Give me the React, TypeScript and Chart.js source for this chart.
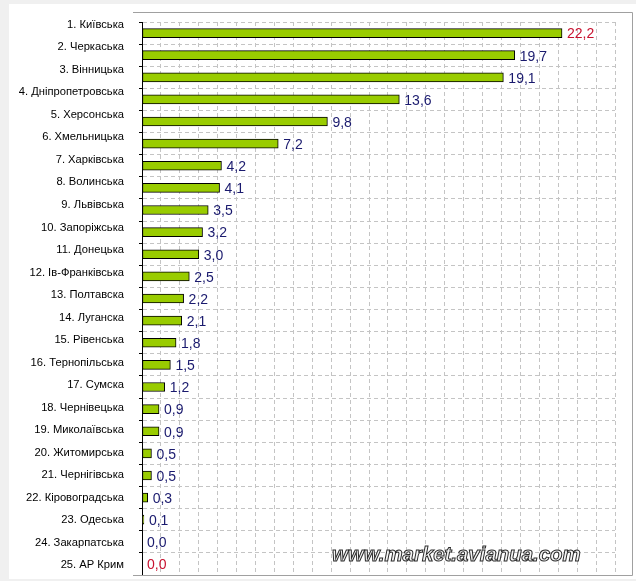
import React, { useEffect, useRef } from 'react';
import { Chart, registerables } from 'chart.js';

Chart.register(...registerables);

const categories: string[] = [
  '1. Київська',
  '2. Черкаська',
  '3. Вінницька',
  '4. Дніпропетровська',
  '5. Херсонська',
  '6. Хмельницька',
  '7. Харківська',
  '8. Волинська',
  '9. Львівська',
  '10. Запоріжська',
  '11. Донецька',
  '12. Ів-Франківська',
  '13. Полтавска',
  '14. Луганска',
  '15. Рівенська',
  '16. Тернопільська',
  '17. Сумска',
  '18. Чернівецька',
  '19. Миколаївська',
  '20. Житомирська',
  '21. Чернігівська',
  '22. Кіровоградська',
  '23. Одеська',
  '24. Закарпатська',
  '25. АР Крим',
];

const values: number[] = [
  22.2, 19.7, 19.1, 13.6, 9.8, 7.2, 4.2, 4.1, 3.5, 3.2, 3.0, 2.5, 2.2, 2.1, 1.8,
  1.5, 1.2, 0.9, 0.9, 0.5, 0.5, 0.3, 0.1, 0.0, 0.0,
];

const highlighted: number[] = [0, 24];
const watermark = 'www.market.avianua.com';
const xMin = 0;
const xMax = 25;
const xStep = 1;

const FONT = '"Liberation Sans", Arial, sans-serif';

export default function App() {
  const canvasRef = useRef<HTMLCanvasElement | null>(null);

  useEffect(() => {
    const canvas = canvasRef.current;
    if (!canvas) return;

    const bgPlugin = {
      id: 'bgPlugin',
      beforeDraw(chart: any) {
        const ctx = chart.ctx;
        ctx.save();
        ctx.fillStyle = '#f0f0f0';
        ctx.fillRect(0, 0, chart.width, chart.height);
        ctx.fillStyle = '#ffffff';
        ctx.fillRect(9, 4, chart.width - 9, 575);
        ctx.restore();
      },
      afterDatasetsDraw(chart: any) {
        const ctx = chart.ctx;
        const meta = chart.getDatasetMeta(0);
        ctx.save();
        ctx.font = `14px ${FONT}`;
        ctx.textAlign = 'left';
        ctx.textBaseline = 'middle';
        meta.data.forEach((bar: any, i: number) => {
          const v = values[i];
          ctx.fillStyle = highlighted.includes(i) ? '#c8102e' : '#1a1a6e';
          ctx.fillText(v.toFixed(1).replace('.', ','), bar.x + 5, bar.y + 1.5);
        });
        ctx.restore();
      },
      afterDraw(chart: any) {
        const ctx = chart.ctx;
        const area = chart.chartArea;
        ctx.save();
        ctx.strokeStyle = '#a0a0a0';
        ctx.lineWidth = 1;
        ctx.beginPath();
        ctx.moveTo(133, 12.5);
        ctx.lineTo(632.5, 12.5);
        ctx.lineTo(632.5, area.bottom + 0.5);
        ctx.lineTo(133, area.bottom + 0.5);
        ctx.stroke();
        ctx.font = `italic bold 20.4px ${FONT}`;
        ctx.textAlign = 'left';
        ctx.textBaseline = 'alphabetic';
        ctx.fillStyle = '#f4f4f4';
        ctx.fillText(watermark, 332, 561);
        ctx.strokeStyle = '#2a2a2a';
        ctx.lineWidth = 1;
        ctx.strokeText(watermark, 332, 561);
        ctx.restore();
      },
    };

    const zeroPad = (s: any) => {
      s.paddingTop = 0;
      s.paddingBottom = 0;
      s.paddingLeft = 0;
      s.paddingRight = 0;
    };

    const chart = new Chart(canvas, {
      type: 'bar',
      data: {
        labels: categories,
        datasets: [
          {
            data: values,
            backgroundColor: '#99cc00',
            borderColor: '#000000',
            borderWidth: 1,
            borderSkipped: false,
            barThickness: 9,
            xAxisID: 'x',
            yAxisID: 'y',
          },
        ],
      },
      options: {
        indexAxis: 'y',
        animation: false,
        responsive: false,
        devicePixelRatio: 1,
        layout: { autoPadding: false, padding: { top: 22, right: 21, bottom: 6, left: 0 } },
        plugins: {
          legend: { display: false },
          tooltip: { enabled: false },
          title: { display: false },
        },
        scales: {
          x: {
            type: 'linear',
            position: 'bottom',
            min: xMin,
            max: xMax,
            offset: false,
            ticks: { display: false, stepSize: xStep, maxTicksLimit: 100 },
            grid: {
              color: (c: any) => (c.index === 0 ? 'rgba(0,0,0,0)' : '#c4c4c4'),
              lineWidth: 1,
              drawTicks: false,
            },
            border: { display: false, dash: [4, 3] },
            afterFit: (s: any) => {
              s.height = 0;
              zeroPad(s);
            },
          },
          y: {
            type: 'category',
            position: 'left',
            weight: 0,
            offset: true,
            ticks: { display: false },
            grid: {
              offset: true,
              color: '#c4c4c4',
              lineWidth: 1,
              drawTicks: true,
              tickLength: 3,
              tickColor: '#000000',
              tickBorderDash: [],
            },
            border: { display: true, color: '#000000', width: 1, dash: [4, 3] },
            afterFit: (s: any) => {
              s.width = 8;
              zeroPad(s);
            },
          },
          yl: {
            type: 'linear',
            axis: 'y',
            position: 'left',
            weight: 1,
            reverse: true,
            offset: false,
            bounds: 'data',
            min: -0.12,
            max: 24.43,
            afterBuildTicks: (s: any) => {
              s.ticks = categories.map((_, i) => ({ value: i }));
            },
            ticks: {
              autoSkip: false,
              padding: 10,
              color: '#000000',
              font: { family: FONT, size: 11.2 },
              callback: (_v: any, i: number) => categories[i],
            },
            grid: { display: false, drawTicks: false, offset: false },
            border: { display: false },
            afterFit: (s: any) => {
              s.width = 134;
              zeroPad(s);
            },
          },
        },
      },
      plugins: [bgPlugin],
    } as any);

    return () => {
      chart.destroy();
    };
  }, []);

  return (
    <div style={{ position: 'fixed', left: 0, top: 0, width: 636, height: 581 }}>
      <canvas ref={canvasRef} width={636} height={581} style={{ display: 'block' }} />
    </div>
  );
}
